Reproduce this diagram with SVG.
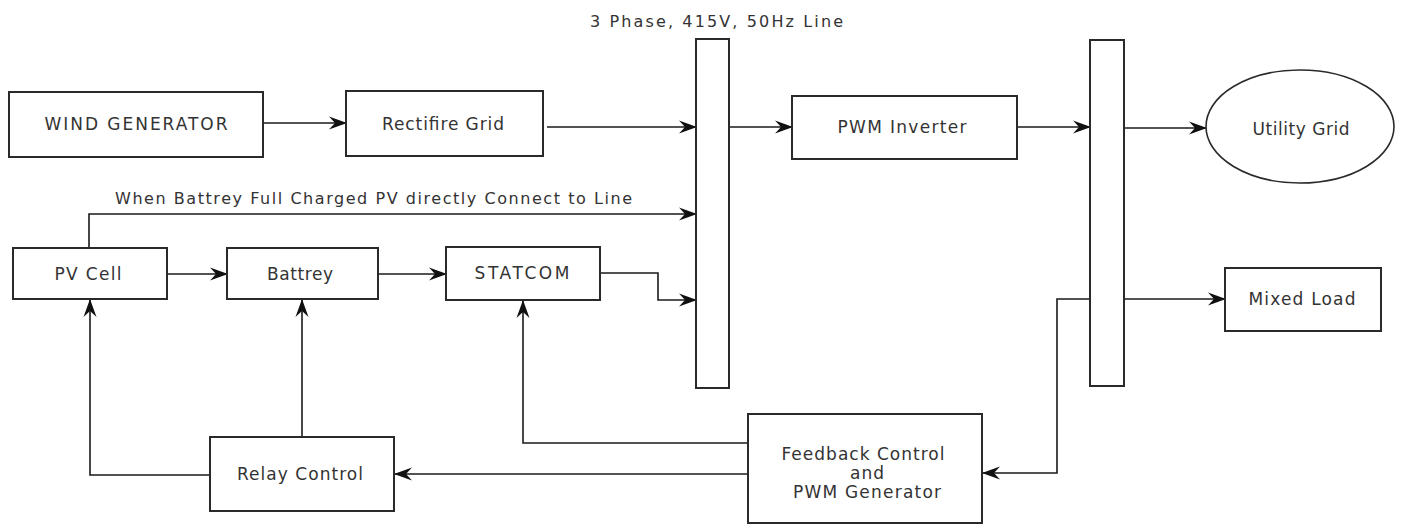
<svg xmlns="http://www.w3.org/2000/svg" width="1402" height="525" viewBox="0 0 1402 525">
<defs>
<style>
.box{fill:#fff;stroke:#2a2a2a;stroke-width:2}
.bus{fill:#fff;stroke:#2a2a2a;stroke-width:2}
.ln{fill:none;stroke:#1a1a1a;stroke-width:1.6}
.t{font-family:"DejaVu Sans",Verdana,sans-serif;font-size:17px;fill:#333;text-anchor:middle}
.ts{font-family:"DejaVu Sans",Verdana,sans-serif;font-size:16px;fill:#333}
</style>
<marker id="ah" markerWidth="18" markerHeight="14" refX="17" refY="7" orient="auto" markerUnits="userSpaceOnUse">
<path d="M0,0.5 L18,7 L0,13.5 L6,7 z" fill="#111"/>
</marker>
</defs>
<rect width="1402" height="525" fill="#fff"/>

<g id="connectors">
<path class="ln" d="M263,123 H346" marker-end="url(#ah)"/>
<path class="ln" d="M547,127 H696" marker-end="url(#ah)"/>
<path class="ln" d="M729,127 H792" marker-end="url(#ah)"/>
<path class="ln" d="M1017,127 H1090" marker-end="url(#ah)"/>
<path class="ln" d="M1124,128 H1206" marker-end="url(#ah)"/>
<path class="ln" d="M1124,299 H1225" marker-end="url(#ah)"/>
<path class="ln" d="M89,248 V214 H696" marker-end="url(#ah)"/>
<path class="ln" d="M167,274 H227" marker-end="url(#ah)"/>
<path class="ln" d="M378,274 H446" marker-end="url(#ah)"/>
<path class="ln" d="M600,273 H658 V300 H696" marker-end="url(#ah)"/>
<path class="ln" d="M1090,299 H1057 V473 H983" marker-end="url(#ah)"/>
<path class="ln" d="M748,443 H523 V301" marker-end="url(#ah)"/>
<path class="ln" d="M748,474 H395" marker-end="url(#ah)"/>
<path class="ln" d="M302,437 V300" marker-end="url(#ah)"/>
<path class="ln" d="M210,475 H90 V300" marker-end="url(#ah)"/>
</g>

<g id="label-line">
<text class="ts" x="590" y="27" textLength="253" lengthAdjust="spacing">3 Phase, 415V, 50Hz Line</text>
</g>
<g id="label-pv-direct">
<text class="ts" x="115" y="204" textLength="517" lengthAdjust="spacing">When Battrey Full Charged PV directly Connect to Line</text>
</g>

<g id="wind-generator">
<rect class="box" x="9" y="92" width="254" height="65"/>
<text class="t" x="136" y="130" textLength="183" lengthAdjust="spacing">WIND GENERATOR</text>
</g>
<g id="rectifire-grid">
<rect class="box" x="346" y="91" width="197" height="65"/>
<text class="t" x="443" y="130" textLength="122" lengthAdjust="spacing">Rectifire Grid</text>
</g>
<g id="bus-1">
<rect class="bus" x="696" y="39" width="33" height="349"/>
</g>
<g id="pwm-inverter">
<rect class="box" x="792" y="96" width="225" height="63"/>
<text class="t" x="902" y="133" textLength="129" lengthAdjust="spacing">PWM Inverter</text>
</g>
<g id="bus-2">
<rect class="bus" x="1090" y="40" width="34" height="346"/>
</g>
<g id="utility-grid">
<ellipse cx="1300" cy="126.5" rx="94" ry="56.5" fill="#fff" stroke="#2a2a2a" stroke-width="1.6"/>
<text class="t" x="1301" y="135" textLength="97" lengthAdjust="spacing">Utility Grid</text>
</g>
<g id="mixed-load">
<rect class="box" x="1225" y="268" width="156" height="63"/>
<text class="t" x="1302" y="305" textLength="107" lengthAdjust="spacing">Mixed Load</text>
</g>
<g id="pv-cell">
<rect class="box" x="13" y="248" width="154" height="51"/>
<text class="t" x="88" y="280" textLength="67" lengthAdjust="spacing">PV Cell</text>
</g>
<g id="battrey">
<rect class="box" x="227" y="248" width="151" height="51"/>
<text class="t" x="300" y="280" textLength="66" lengthAdjust="spacing">Battrey</text>
</g>
<g id="statcom">
<rect class="box" x="446" y="247" width="154" height="53"/>
<text class="t" x="522" y="279" textLength="95" lengthAdjust="spacing">STATCOM</text>
</g>
<g id="relay-control">
<rect class="box" x="210" y="437" width="184" height="74"/>
<text class="t" x="300" y="480" textLength="126" lengthAdjust="spacing">Relay Control</text>
</g>
<g id="feedback-control">
<rect class="box" x="748" y="414" width="234" height="109"/>
<text class="t" x="863" y="460" textLength="163" lengthAdjust="spacing">Feedback Control</text>
<text class="t" x="867" y="479" textLength="34" lengthAdjust="spacing">and</text>
<text class="t" x="867" y="498" textLength="148" lengthAdjust="spacing">PWM Generator</text>
</g>
</svg>
